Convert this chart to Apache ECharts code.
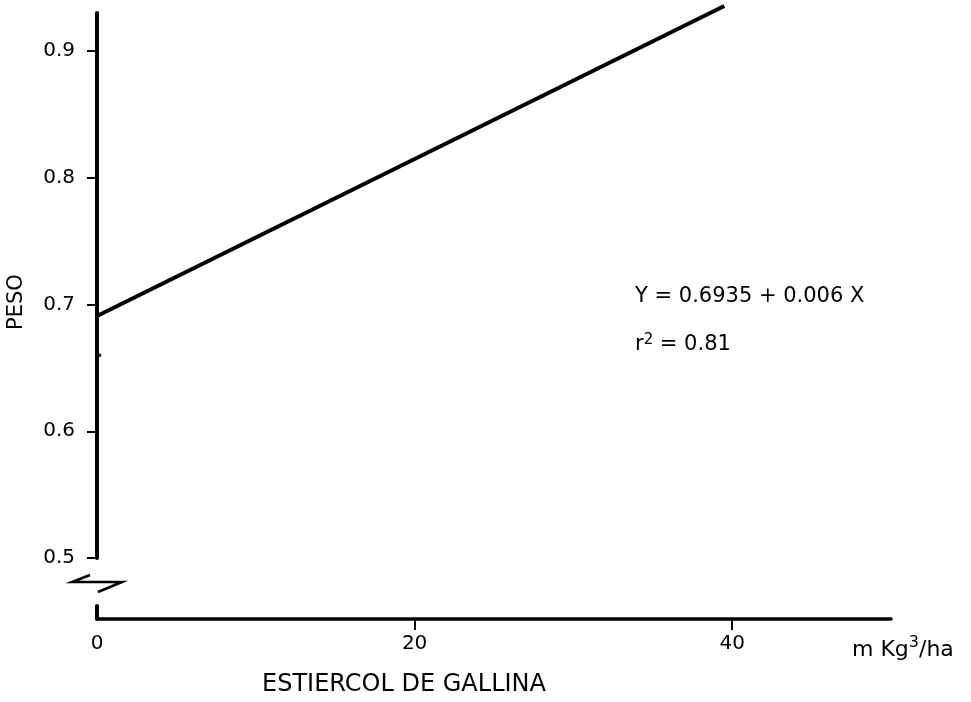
<!DOCTYPE html>
<html><head><meta charset="utf-8">
<script src="https://cdn.jsdelivr.net/npm/echarts@6/dist/echarts.min.js"></script>
<style>html,body{margin:0;padding:0;background:#fff}#c{width:971px;height:702px}</style>
</head><body><div id="c"></div>
<script>
// ---- data ----
const xTickValues = [0, 20, 40];
const xMajorTicks = [20, 40];
const yTickValues = [0.5, 0.6, 0.7, 0.8, 0.9];
const regressionX = [0, 39.5];
const regressionY = [0.691, 0.9355];
const pointX = [0.15];
const pointY = [0.66];
const yAxisTitle = 'PESO';
const xAxisTitle = 'ESTIERCOL DE GALLINA';
const equationText = 'Y = 0.6935 + 0.006 X';
const r2Value = '0.81';

const FONT = 'DejaVu Sans';
const chart = echarts.init(document.getElementById('c'));
const lineData = regressionX.map((x, i) => [x, regressionY[i]]);
const pointData = pointX.map((x, i) => [x, pointY[i]]);

chart.setOption({
  backgroundColor: '#fff',
  animation: false,
  grid: [
    { left: 97, right: 80, top: 13, bottom: 144 },
    { left: 97, right: 80, top: 606, bottom: 83 }
  ],
  xAxis: [
    { gridIndex: 0, type: 'value', min: 0, max: 50, show: false },
    {
      gridIndex: 1, type: 'value', min: 0, max: 50, interval: 10,
      axisLine: { show: true, lineStyle: { color: '#000', width: 3.5 } },
      axisTick: { show: true, customValues: xMajorTicks, length: 11, lineStyle: { color: '#000', width: 2 } },
      axisLabel: { customValues: xTickValues, fontSize: 20, fontFamily: FONT, color: '#000', margin: 15 },
      splitLine: { show: false }
    }
  ],
  yAxis: [
    {
      gridIndex: 0, type: 'value', min: 0.5, max: 0.93, interval: 0.1,
      axisLine: { show: true, lineStyle: { color: '#000', width: 4 } },
      axisTick: { show: true, customValues: yTickValues, length: 10, lineStyle: { color: '#000', width: 2 } },
      axisLabel: { customValues: yTickValues, fontSize: 20, fontFamily: FONT, color: '#000', margin: 22,
                   formatter: v => Number(v).toFixed(1) },
      splitLine: { show: false }
    },
    {
      gridIndex: 1, type: 'value', min: 0, max: 1,
      axisLine: { show: true, lineStyle: { color: '#000', width: 4 } },
      axisTick: { show: false }, axisLabel: { show: false }, splitLine: { show: false }
    }
  ],
  series: [
    { type: 'line', xAxisIndex: 0, yAxisIndex: 0, data: lineData, symbol: 'none', clip: false,
      lineStyle: { color: '#000', width: 4 } },
    { type: 'scatter', xAxisIndex: 0, yAxisIndex: 0, data: pointData, symbolSize: 4,
      itemStyle: { color: '#000' } }
  ],
  graphic: [
    { type: 'polyline', shape: { points: [[90, 575], [72, 582], [122, 582], [98, 592]] },
      style: { stroke: '#000', lineWidth: 2.5, fill: null } },
    { type: 'text', x: 17, y: 302, rotation: Math.PI / 2,
      style: { text: yAxisTitle, font: '21px "' + FONT + '"', fill: '#000', align: 'center', verticalAlign: 'middle' } },
    { type: 'text', x: 404, y: 685,
      style: { text: xAxisTitle, font: '24px "' + FONT + '"', fill: '#000', align: 'center', verticalAlign: 'middle' } },
    { type: 'text', x: 635, y: 297,
      style: { text: equationText, font: '21px "' + FONT + '"', fill: '#000', align: 'left', verticalAlign: 'middle' } },
    { type: 'text', x: 635, y: 344,
      style: { text: '{a|r}{s|2}{a| = ' + r2Value + '}', fill: '#000', align: 'left', verticalAlign: 'middle',
        rich: {
          a: { fontSize: 21, fontFamily: FONT, color: '#000', lineHeight: 22, verticalAlign: 'bottom' },
          s: { fontSize: 15, fontFamily: FONT, color: '#000', lineHeight: 22, verticalAlign: 'top', padding: [0, 0, 6, 0] }
        } } },
    { type: 'text', x: 852, y: 648,
      style: { text: '{a|m Kg}{s|3}{a|/ha}', fill: '#000', align: 'left', verticalAlign: 'middle',
        rich: {
          a: { fontSize: 22, fontFamily: FONT, color: '#000', lineHeight: 26, verticalAlign: 'bottom' },
          s: { fontSize: 16, fontFamily: FONT, color: '#000', lineHeight: 16, verticalAlign: 'top' }
        } } }
  ]
});
</script></body></html>
